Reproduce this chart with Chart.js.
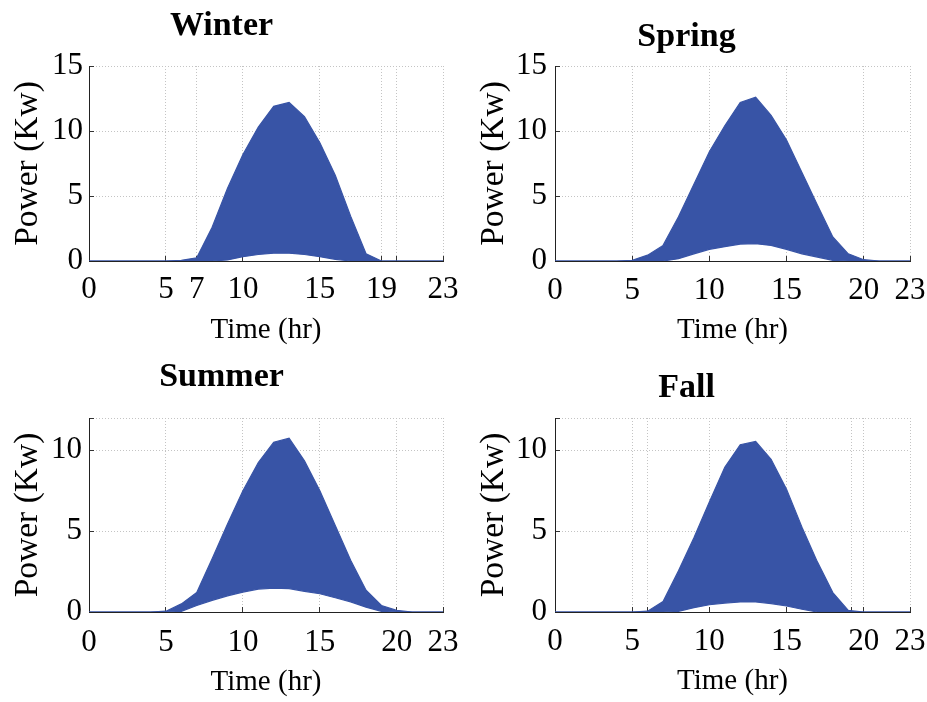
<!DOCTYPE html>
<html>
<head>
<meta charset="utf-8">
<script src="https://cdn.jsdelivr.net/npm/chart.js@4.4.1/dist/chart.umd.min.js"></script>
<style>
html,body{margin:0;padding:0;background:#ffffff;}
#wrap{position:relative;width:927px;height:702px;overflow:hidden;}
#wrap canvas{position:absolute;}
</style>
</head>
<body>
<div id="wrap">
  <canvas id="winter" width="463" height="350" style="left:0px;top:0px"></canvas>
  <canvas id="spring" width="464" height="350" style="left:463px;top:0px"></canvas>
  <canvas id="summer" width="463" height="352" style="left:0px;top:350px"></canvas>
  <canvas id="fall" width="464" height="352" style="left:463px;top:350px"></canvas>
</div>
<script>
// ---------- data ----------
const hours = [0,1,2,3,4,5,6,7,8,9,10,11,12,13,14,15,16,17,18,19,20,21,22,23];

const winterUpper = [0,0,0,0,0,0,0.05,0.25,2.6,5.6,8.2,10.3,11.9,12.2,11.1,9.1,6.6,3.45,0.55,0,0,0,0,0];
const winterLower = [0,0,0,0,0,0,0,0,0,0.08,0.33,0.5,0.6,0.6,0.5,0.33,0.13,0,0,0,0,0,0,0];

const springUpper = [0,0,0,0,0,0.05,0.45,1.2,3.4,5.9,8.4,10.4,12.2,12.6,11.2,9.3,6.8,4.3,1.85,0.55,0.1,0,0,0];
const springLower = [0,0,0,0,0,0,0,0,0.18,0.55,0.9,1.1,1.3,1.33,1.2,0.9,0.55,0.3,0.05,0,0,0,0,0];

const summerUpper = [0,0,0,0,0,0.05,0.5,1.2,3.3,5.45,7.5,9.25,10.5,10.75,9.35,7.5,5.35,3.2,1.35,0.4,0.1,0,0,0];
const summerLower = [0,0,0,0,0,0,0.04,0.4,0.72,1.0,1.23,1.42,1.47,1.45,1.28,1.13,0.88,0.63,0.3,0.04,0,0,0,0];

const fallUpper = [0,0,0,0,0,0,0.05,0.65,2.55,4.6,6.8,8.95,10.35,10.55,9.45,7.6,5.25,3.1,1.2,0.1,0,0,0,0];
const fallLower = [0,0,0,0,0,0,0,0,0.04,0.27,0.45,0.55,0.62,0.62,0.52,0.37,0.17,0,0,0,0,0,0,0];

// tick values and labels
const winterXTicks = [0,5,7,10,15,19,20,23];
const winterXLabels = [0,5,7,10,15,19,23];
const springXTicks = [0,5,10,15,20,23];
const springXLabels = [0,5,10,15,20,23];
const summerXTicks = [0,5,10,15,20,23];
const summerXLabels = [0,5,10,15,20,23];
const fallXTicks = [0,5,6,10,15,19.2,20,23];
const fallXLabels = [0,5,10,15,20,23];

const winterYTicks = [0,5,10,15];
const winterYLabels = [0,5,10,15];
const springYTicks = [0,5,10,15];
const springYLabels = [0,5,10,15];
const summerYTicks = [0,5,10,12];
const summerYLabels = [0,5,10];
const fallYTicks = [0,5,10,12];
const fallYLabels = [0,5,10];

const titles = ['Winter','Spring','Summer','Fall'];
const xAxisTitle = 'Time (hr)';
const yAxisTitle = 'Power (Kw)';

// ---------- style ----------
const BLUE = 'rgb(56,84,166)';
const GRID = '#c4c4c4';
const SERIF = '"Liberation Serif", "Times New Roman", serif';

function makeChart(id, p) {
  const pts = arr => hours.map((h, i) => ({x: h, y: arr[i]}));
  new Chart(document.getElementById(id), {
    type: 'line',
    data: {
      datasets: [
        {data: pts(p.lower), borderColor: BLUE, backgroundColor: BLUE, borderWidth: 1.2,
         pointRadius: 0, fill: false, tension: 0},
        {data: pts(p.upper), borderColor: BLUE, backgroundColor: BLUE, borderWidth: 1.2,
         pointRadius: 0, fill: '-1', tension: 0}
      ]
    },
    options: {
      responsive: false,
      animation: false,
      events: [],
      layout: {padding: {left: 0, right: p.padRight, top: 0, bottom: 0}},
      plugins: {
        legend: {display: false},
        tooltip: {enabled: false},
        title: {
          display: true, text: p.title, color: '#000',
          font: {family: SERIF, size: 34, weight: 'bold', lineHeight: 1},
          padding: {top: p.tTop, bottom: p.tBottom}
        }
      },
      scales: {
        x: {
          type: 'linear', min: 0, max: 23,
          afterFit: s => { s.height = p.xH; s.paddingLeft = 0; s.paddingRight = 0; },
          afterBuildTicks: s => { s.ticks = p.xTicks.map(v => ({value: v})); },
          ticks: {
            autoSkip: false, maxRotation: 0, minRotation: 0, padding: p.xPad, color: '#000',
            font: {family: SERIF, size: 31},
            callback: v => p.xLabels.includes(v) ? String(v) : ''
          },
          grid: {color: GRID, lineWidth: 1, drawTicks: true, tickLength: -5,
                 tickColor: '#333', tickWidth: 1},
          border: {display: true, color: '#222', width: 1, dash: [1, 2]},
          title: {display: true, text: xAxisTitle, color: '#000',
                  font: {family: SERIF, size: 29, lineHeight: 1},
                  padding: {top: 0, bottom: p.xtPad}}
        },
        y: {
          type: 'linear', min: 0, max: p.yMax,
          afterFit: s => { s.width = p.yW; s.paddingTop = 0; s.paddingBottom = 0; },
          afterBuildTicks: s => { s.ticks = p.yTicks.map(v => ({value: v})); },
          ticks: {
            padding: p.yPad, color: '#000',
            font: {family: SERIF, size: 31},
            callback: v => p.yLabels.includes(v) ? String(v) : ''
          },
          grid: {color: GRID, lineWidth: 1, drawTicks: true, tickLength: -5,
                 tickColor: '#333', tickWidth: 1},
          border: {display: true, color: '#222', width: 1, dash: [1, 2]},
          title: {display: true, text: yAxisTitle, color: '#000',
                  font: {family: SERIF, size: 33.5, lineHeight: 1},
                  padding: {top: p.ytPad, bottom: 0}}
        }
      }
    }
  });
}

makeChart('winter', {
  title: titles[0], upper: winterUpper, lower: winterLower,
  xTicks: winterXTicks, xLabels: winterXLabels, yTicks: winterYTicks, yLabels: winterYLabels, yMax: 15,
  padRight: 20, xH: 89, yW: 89, xPad: 15.5, yPad: 11, ytPad: 11, xtPad: 5.5, tTop: 9, tBottom: 23
});
makeChart('spring', {
  title: titles[1], upper: springUpper, lower: springLower,
  xTicks: springXTicks, xLabels: springXLabels, yTicks: springYTicks, yLabels: springYLabels, yMax: 15,
  padRight: 17, xH: 89, yW: 92, xPad: 16.5, yPad: 13, ytPad: 14, xtPad: 5.5, tTop: 20, tBottom: 12
});
makeChart('summer', {
  title: titles[2], upper: summerUpper, lower: summerLower,
  xTicks: summerXTicks, xLabels: summerXLabels, yTicks: summerYTicks, yLabels: summerYLabels, yMax: 12,
  padRight: 20, xH: 90, yW: 89, xPad: 17.5, yPad: 12, ytPad: 11, xtPad: 5.5, tTop: 10.5, tBottom: 23.5
});
makeChart('fall', {
  title: titles[3], upper: fallUpper, lower: fallLower,
  xTicks: fallXTicks, xLabels: fallXLabels, yTicks: fallYTicks, yLabels: fallYLabels, yMax: 12,
  padRight: 17, xH: 90, yW: 92, xPad: 16.5, yPad: 13, ytPad: 14, xtPad: 6.5, tTop: 21.5, tBottom: 12.5
});
</script>
</body>
</html>
